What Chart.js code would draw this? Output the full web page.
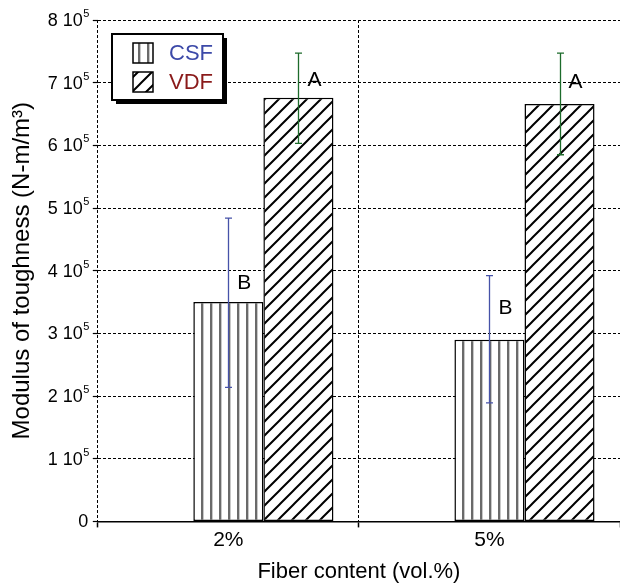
<!DOCTYPE html>
<html>
<head>
<meta charset="utf-8">
<script src="https://cdn.jsdelivr.net/npm/chart.js@4.4.1/dist/chart.umd.min.js"></script>
<style>
  html, body { margin: 0; padding: 0; background: #fff; }
  #wrap { width: 620px; height: 585px; position: relative; }
</style>
</head>
<body>
<div id="wrap"><canvas id="mycanvas"></canvas></div>
<script>
// data
var categories = ['2%', '5%'];
var seriesNames = ['CSF', 'VDF'];
var csfValues = [350000, 290000];
var vdfValues = [676000, 666000];
var csfLow = [214000, 189000];
var csfHigh = [484000, 392000];
var vdfLow = [603000, 585000];
var vdfHigh = [747000, 747000];
var csfLetters = ['B', 'B'];
var vdfLetters = ['A', 'A'];
// value level where each letter sits
var csfLetterAt = [380000, 340000];
var vdfLetterAt = [704000, 700000];
var yTickValues = [0, 100000, 200000, 300000, 400000, 500000, 600000, 700000, 800000];
var yTickLabels = ['0', '1 10', '2 10', '3 10', '4 10', '5 10', '6 10', '7 10', '8 10'];
var yTickSups = ['', '5', '5', '5', '5', '5', '5', '5', '5'];

var FONT = 'Liberation Sans, Arial, Helvetica, sans-serif';

function stripePattern() {
    var c = document.createElement('canvas');
    c.width = 9; c.height = 9;
    var g = c.getContext('2d');
    g.fillStyle = '#fff';
    g.fillRect(0, 0, 9, 9);
    g.fillStyle = '#6a6a6a';
    g.fillRect(3, 0, 2, 9);
    g.fillStyle = '#c8c8c8';
    g.fillRect(5, 0, 1, 9);
    return g.createPattern(c, 'repeat');
}

function hatchPattern() {
    var s = 14;
    var c = document.createElement('canvas');
    c.width = s; c.height = s;
    var g = c.getContext('2d');
    g.fillStyle = '#fff';
    g.fillRect(0, 0, s, s);
    g.strokeStyle = '#000';
    g.lineWidth = 2;
    g.beginPath();
    g.moveTo(-2, s + 2); g.lineTo(s + 2, -2);
    g.moveTo(-2, 2); g.lineTo(2, -2);
    g.moveTo(s - 2, s + 2); g.lineTo(s + 2, s - 2);
    g.stroke();
    return g.createPattern(c, 'repeat');
}

var csfFill = stripePattern();
var vdfFill = hatchPattern();

var extras = {
    id: 'extras',
    afterDatasetsDraw: function (chart) {
        var ctx = chart.ctx;
        var y = chart.scales.y;
        var sets = [
            { meta: chart.getDatasetMeta(1), low: csfLow, high: csfHigh, color: '#4652a8', letters: csfLetters, at: csfLetterAt },
            { meta: chart.getDatasetMeta(2), low: vdfLow, high: vdfHigh, color: '#1d6b2b', letters: vdfLetters, at: vdfLetterAt }
        ];
        ctx.save();
        sets.forEach(function (s) {
            s.meta.data.forEach(function (bar, i) {
                var x = Math.round(bar.x) + 0.5;
                var yl = y.getPixelForValue(s.low[i]);
                var yh = y.getPixelForValue(s.high[i]);
                ctx.strokeStyle = s.color;
                ctx.lineWidth = 1.3;
                ctx.beginPath();
                ctx.moveTo(x, yl); ctx.lineTo(x, yh);
                ctx.moveTo(x - 3.5, yl); ctx.lineTo(x + 3.5, yl);
                ctx.moveTo(x - 3.5, yh); ctx.lineTo(x + 3.5, yh);
                ctx.stroke();
                ctx.fillStyle = '#000';
                ctx.font = '21px ' + FONT;
                ctx.textAlign = 'center';
                ctx.textBaseline = 'middle';
                ctx.fillText(s.letters[i], bar.x + 16, y.getPixelForValue(s.at[i]));
            });
        });
        ctx.restore();
    },
    afterDraw: function (chart) {
        var ctx = chart.ctx;
        var y = chart.scales.y;
        var area = chart.chartArea;
        ctx.save();
        // y tick labels with superscript exponent
        yTickValues.forEach(function (v, i) {
            var py = y.getPixelForValue(v);
            var right = area.left - 8.5;
            ctx.fillStyle = '#000';
            ctx.textBaseline = 'middle';
            var supW = 0;
            if (yTickSups[i]) {
                ctx.font = '11px ' + FONT;
                supW = ctx.measureText(yTickSups[i]).width;
                ctx.textAlign = 'left';
                ctx.fillText(yTickSups[i], right - supW, py - 6);
                supW += 0.5;
            } else {
                right = area.left - 9.5;
            }
            ctx.font = '18px ' + FONT;
            ctx.textAlign = 'right';
            ctx.fillText(yTickLabels[i], right - supW, py + 1);
        });

        // legend box with shadow
        var bx = 112, by = 34, bw = 111, bh = 66;
        ctx.fillStyle = '#000';
        ctx.fillRect(bx + 4, by + 4, bw, bh);
        ctx.fillStyle = '#fff';
        ctx.fillRect(bx, by, bw, bh);
        ctx.strokeStyle = '#000';
        ctx.lineWidth = 2;
        ctx.strokeRect(bx, by, bw, bh);
        var fills = [csfFill, vdfFill];
        var colors = ['#3c49a8', '#8a1a1a'];
        for (var k = 0; k < 2; k++) {
            var iy = by + 9 + k * 29;
            ctx.fillStyle = fills[k];
            ctx.fillRect(bx + 21, iy, 20, 20);
            ctx.lineWidth = 1.5;
            ctx.strokeRect(bx + 21, iy, 20, 20);
            ctx.fillStyle = colors[k];
            ctx.font = '22px ' + FONT;
            ctx.textAlign = 'left';
            ctx.textBaseline = 'middle';
            ctx.fillText(seriesNames[k], bx + 57, iy + 11);
        }
        ctx.restore();
    }
};

var ctx = document.getElementById('mycanvas');

var barGraph = new Chart(ctx, {
    type: 'bar',
    data: {
        labels: categories,
        datasets: [{
            label: '',
            data: [null, null]
        }, {
            label: seriesNames[0],
            backgroundColor: csfFill,
            borderColor: '#000',
            borderWidth: 1.5,
            borderSkipped: false,
            data: csfValues
        }, {
            label: seriesNames[1],
            backgroundColor: vdfFill,
            borderColor: '#000',
            borderWidth: 1.5,
            borderSkipped: false,
            data: vdfValues
        }]
    },
    options: {
        responsive: true,
        maintainAspectRatio: false,
        animation: false,
        datasets: { bar: { categoryPercentage: 0.805, barPercentage: 1.0 } },
        layout: { padding: { top: 20, right: 0, bottom: 0, left: 0 } },
        plugins: {
            legend: { display: false },
            tooltip: { enabled: false }
        },
        scales: {
            x: {
                offset: true,
                grid: { color: '#000', lineWidth: 1, offset: true, tickLength: 6, tickColor: '#000', tickWidth: 1.5 },
                border: { display: true, color: '#000', width: 1.5, dash: [3, 2] },
                ticks: { color: '#000', font: { family: FONT, size: 21 }, padding: 0 },
                title: { display: true, text: 'Fiber content (vol.%)', color: '#000', font: { family: FONT, size: 22 }, padding: { top: 6, bottom: 0 } }
            },
            y: {
                min: 0,
                max: 800000,
                ticks: { stepSize: 100000, display: false },
                grid: { color: '#000', lineWidth: 1, tickLength: 5, tickColor: '#000', tickWidth: 1.2 },
                border: { display: false, dash: [3, 2] },
                title: { display: true, text: 'Modulus of toughness (N-m/m³)', color: '#000', font: { family: FONT, size: 24 }, padding: { top: 8, bottom: 56 } }
            }
        }
    },
    plugins: [extras]
});
</script>
</body>
</html>
